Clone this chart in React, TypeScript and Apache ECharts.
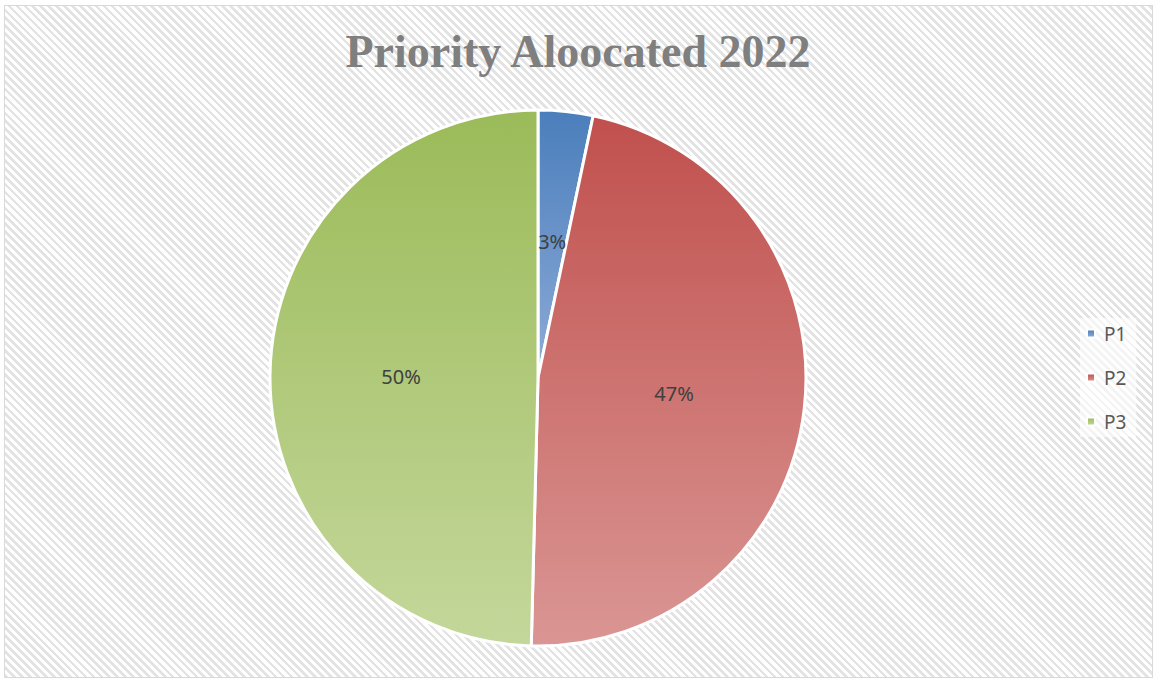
import React, { useEffect, useRef } from "react";
import * as echarts from "echarts";

const TITLE = "Priority Aloocated 2022";
const categories = ["P1", "P2", "P3"];
const values = [3.3, 47.1, 49.6];
const topColors = ["#4A7EBB", "#C0504D", "#9BBB59"];
const bottomColors = ["#8EABD8", "#DA9694", "#C4D79B"];

export default function App() {
  const ref = useRef<HTMLDivElement>(null);

  useEffect(() => {
    document.body.style.margin = "0";
    if (!ref.current) return;
    const chart = echarts.init(ref.current, null, { renderer: "svg" });
    const data = categories.map((name, i) => ({
      name,
      value: values[i],
      itemStyle: {
        color: new echarts.graphic.LinearGradient(0, 0, 0, 1, [
          { offset: 0, color: topColors[i] },
          { offset: 1, color: bottomColors[i] },
        ]),
      },
    }));
    chart.setOption({
      animation: false,
      backgroundColor: "transparent",
      title: {
        text: TITLE,
        left: "center",
        top: 23,
        textStyle: {
          fontFamily: "Liberation Serif",
          fontWeight: "bold",
          fontSize: 46,
          color: "#7F7F7F",
        },
      },
      legend: {
        orient: "vertical",
        left: 1080,
        top: 318,
        padding: [6, 10, 6, 6],
        backgroundColor: "rgba(255,255,255,0.6)",
        icon: "rect",
        itemWidth: 8,
        itemHeight: 8,
        itemGap: 25,
        data: categories,
        textStyle: {
          fontFamily: "Noto Sans",
          fontSize: 19,
          color: "#595959",
          padding: [0, 0, 0, 4],
        },
      },
      series: [
        {
          type: "pie",
          center: [538, 378],
          radius: [0, 268],
          startAngle: 90,
          clockwise: true,
          data,
          itemStyle: { borderColor: "#FFFFFF", borderWidth: 3 },
          label: {
            show: true,
            position: "inside",
            formatter: (p: any) => Math.round(p.percent) + "%",
            fontFamily: "Noto Sans",
            fontSize: 20,
            color: "#404040",
          },
          labelLine: { show: false },
          emphasis: { disabled: true },
        },
      ],
    });
    return () => chart.dispose();
  }, []);

  return (
    <div style={{ position: "fixed", left: 0, top: 0, width: 1156, height: 679, background: "#FFFFFF" }}>
      <div
        style={{
          position: "absolute",
          left: 4,
          top: 5,
          width: 1147,
          height: 671,
          border: "1px solid #D9D9D9",
          background:
            "repeating-linear-gradient(45deg, #E3E3E3 0px, #E3E3E3 2.6px, #FFFFFF 2.6px, #FFFFFF 5.6px)",
        }}
      />
      <div ref={ref} style={{ position: "absolute", left: 0, top: 0, width: 1156, height: 679 }} />
    </div>
  );
}
